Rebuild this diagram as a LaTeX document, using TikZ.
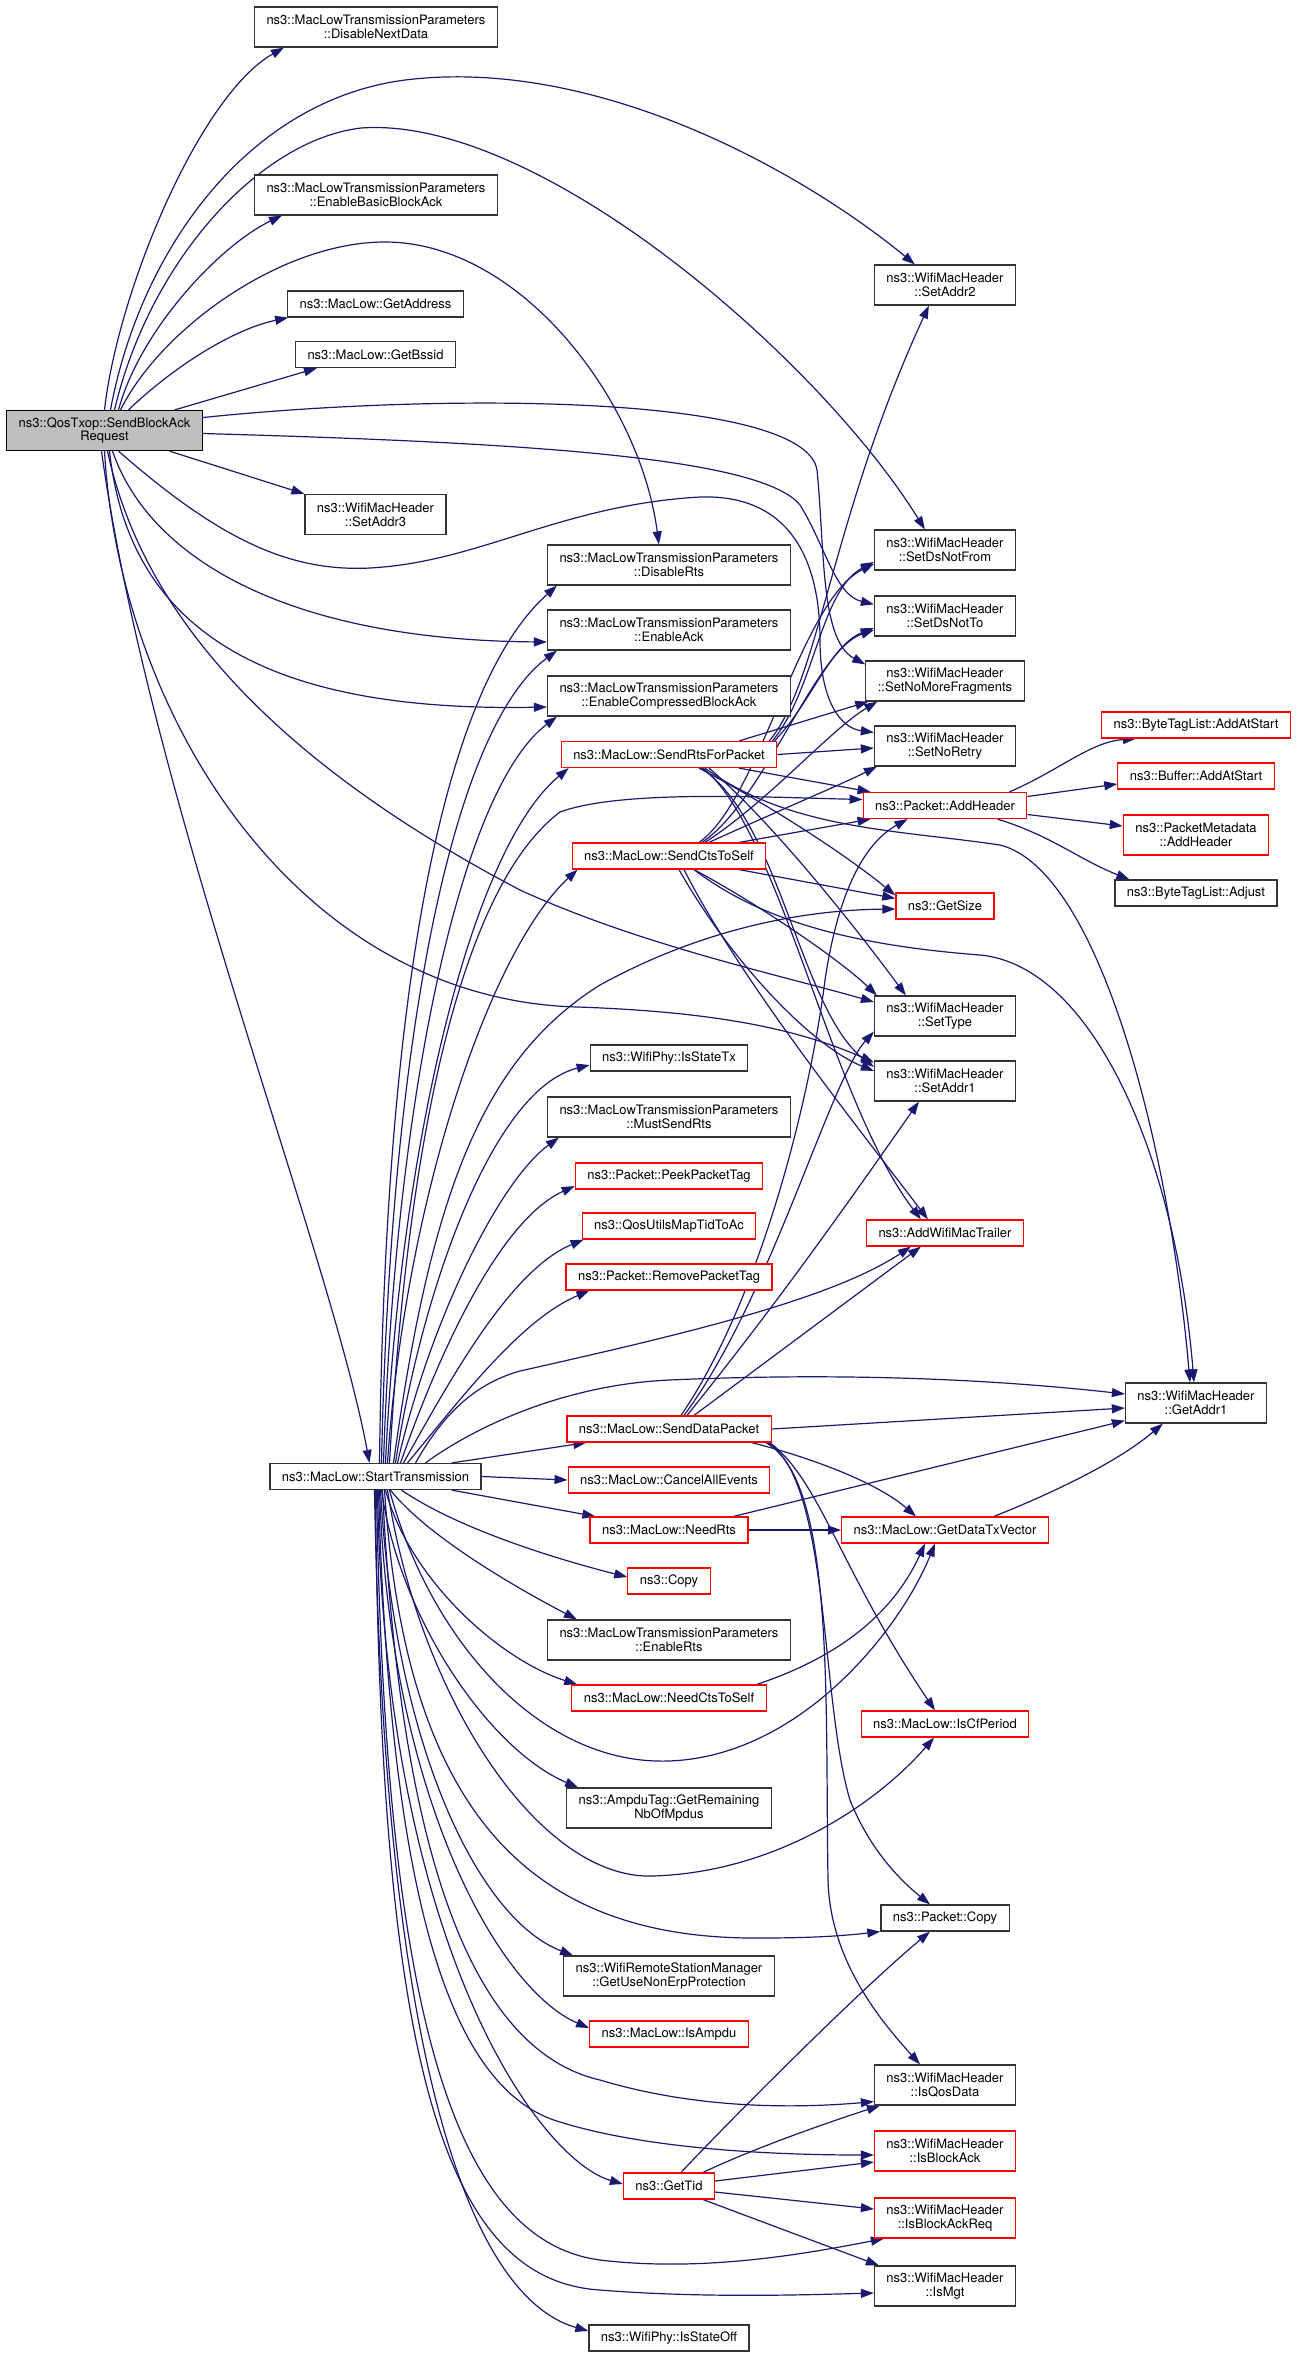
\documentclass[tikz,border=0pt]{standalone}
\usepackage{fontspec}
\setmainfont{TeX Gyre Heros}
\usetikzlibrary{arrows.meta, calc, backgrounds}

\definecolor{edgeblue}{RGB}{25,25,112}
\definecolor{rootgray}{RGB}{191,191,191}

\begin{document}
\begin{tikzpicture}[x=0.5pt, y=-0.5pt,
  fn/.style={draw=black!80, fill=white, line width=0.6pt, inner xsep=6pt, inner ysep=1pt,
    minimum height=13pt, align=center, font=\fontsize{6.5}{6.9}\selectfont},
  fnred/.style={fn, draw=red},
  fnroot/.style={fn, fill=rootgray, draw=black},
  two/.style={minimum height=20pt},
  callline/.style={edgeblue, line width=0.6pt, -{Triangle[length=6.5pt,width=4.5pt]}}]
\useasboundingbox (0,0) rectangle (1299,2357);

% caller
\node[fnroot, two] (sbar) at (104.5,430.5) {ns3::QosTxop::SendBlockAck\\Request};

% second column
\node[fn, two] (dnd) at (376,27) {ns3::MacLowTransmissionParameters\\::DisableNextData};
\node[fn, two] (ebba) at (376,195) {ns3::MacLowTransmissionParameters\\::EnableBasicBlockAck};
\node[fn] (gaddr) at (375.5,304) {ns3::MacLow::GetAddress};
\node[fn] (gbss) at (375.5,354.5) {ns3::MacLow::GetBssid};
\node[fn, two] (sa3) at (375.5,514.5) {ns3::WifiMacHeader\\::SetAddr3};
\node[fn] (st) at (375.5,1476.5) {ns3::MacLow::StartTransmission};

% third column
\node[fn, two] (drts) at (669,565) {ns3::MacLowTransmissionParameters\\::DisableRts};
\node[fn, two] (eack) at (669,630) {ns3::MacLowTransmissionParameters\\::EnableAck};
\node[fn, two] (ecba) at (669,696) {ns3::MacLowTransmissionParameters\\::EnableCompressedBlockAck};
\node[fnred] (srts) at (669,754.5) {ns3::MacLow::SendRtsForPacket};
\node[fnred] (scts) at (669,856) {ns3::MacLow::SendCtsToSelf};
\node[fn] (istx) at (669,1058) {ns3::WifiPhy::IsStateTx};
\node[fn, two] (msr) at (669,1117) {ns3::MacLowTransmissionParameters\\::MustSendRts};
\node[fnred] (ppt) at (669,1176) {ns3::Packet::PeekPacketTag};
\node[fnred] (qos) at (669,1226) {ns3::QosUtilsMapTidToAc};
\node[fnred] (rpt) at (669,1277) {ns3::Packet::RemovePacketTag};
\node[fnred] (sdp) at (669,1429) {ns3::MacLow::SendDataPacket};
\node[fnred] (cae) at (669,1480) {ns3::MacLow::CancelAllEvents};
\node[fnred] (nrts) at (669,1530) {ns3::MacLow::NeedRts};
\node[fnred] (copy) at (669,1581) {ns3::Copy};
\node[fn, two] (erts) at (669,1640) {ns3::MacLowTransmissionParameters\\::EnableRts};
\node[fnred] (ncts) at (669,1698) {ns3::MacLow::NeedCtsToSelf};
\node[fn, two] (ampdu) at (669,1808) {ns3::AmpduTag::GetRemaining\\NbOfMpdus};
\node[fn, two] (nonerp) at (669,1976) {ns3::WifiRemoteStationManager\\::GetUseNonErpProtection};
\node[fnred] (isampdu) at (669,2034) {ns3::MacLow::IsAmpdu};
\node[fnred] (gtid) at (669,2186) {ns3::GetTid};
\node[fn] (isoff) at (669,2338) {ns3::WifiPhy::IsStateOff};

% fourth column
\node[fn, two] (sa2) at (945,285) {ns3::WifiMacHeader\\::SetAddr2};
\node[fn, two] (sdnf) at (945,550) {ns3::WifiMacHeader\\::SetDsNotFrom};
\node[fn, two] (sdnt) at (945,616) {ns3::WifiMacHeader\\::SetDsNotTo};
\node[fn, two] (snmf) at (945,681) {ns3::WifiMacHeader\\::SetNoMoreFragments};
\node[fn, two] (snr) at (945,746) {ns3::WifiMacHeader\\::SetNoRetry};
\node[fnred] (addh) at (945,805.5) {ns3::Packet::AddHeader};
\node[fnred] (gsize) at (945,906) {ns3::GetSize};
\node[fn, two] (stype) at (945,1016) {ns3::WifiMacHeader\\::SetType};
\node[fn, two] (sa1) at (945,1081) {ns3::WifiMacHeader\\::SetAddr1};
\node[fnred] (awmt) at (945,1233) {ns3::AddWifiMacTrailer};
\node[fnred] (gdtv) at (945,1530) {ns3::MacLow::GetDataTxVector};
\node[fnred] (iscf) at (945,1724) {ns3::MacLow::IsCfPeriod};
\node[fn] (pcopy) at (945,1918) {ns3::Packet::Copy};
\node[fn, two] (isqos) at (945,2085) {ns3::WifiMacHeader\\::IsQosData};
\node[fnred, two] (isba) at (945,2151) {ns3::WifiMacHeader\\::IsBlockAck};
\node[fnred, two] (isbar) at (945,2218) {ns3::WifiMacHeader\\::IsBlockAckReq};
\node[fn, two] (ismgt) at (945,2286) {ns3::WifiMacHeader\\::IsMgt};

% fifth column
\node[fnred] (btlaas) at (1196,725) {ns3::ByteTagList::AddAtStart};
\node[fnred] (bufaas) at (1196,776) {ns3::Buffer::AddAtStart};
\node[fnred, two] (pmah) at (1196,835) {ns3::PacketMetadata\\::AddHeader};
\node[fn] (btladj) at (1196,893) {ns3::ByteTagList::Adjust};
\node[fn, two] (ga1) at (1196,1403) {ns3::WifiMacHeader\\::GetAddr1};

\begin{pgfonlayer}{background}
% calls of SendBlockAckRequest
\draw[callline] (sbar.north) .. controls (118,290) and (200,95) .. ($(dnd.south west)+(30,0)$);
\draw[callline] ($(sbar.north)+(6,0)$) .. controls (140,250) and (250,95) .. (414,79) .. controls (600,60) and (800,170) .. ($(sa2.north west)+(41,0)$);
\draw[callline] ($(sbar.north)+(10,0)$) .. controls (150,260) and (260,140) .. (361,128) .. controls (540,115) and (820,360) .. ($(sdnf.north west)+(51,0)$);
\draw[callline] ($(sbar.north)+(14,0)$) .. controls (140,330) and (220,245) .. ($(ebba.south west)+(28,0)$);
\draw[callline] ($(sbar.north)+(16,0)$) .. controls (160,330) and (280,242) .. (385,242) .. controls (520,242) and (640,400) .. ($(drts.north west)+(112,0)$);
\draw[callline] ($(sbar.north)+(24,0)$) .. controls (170,370) and (230,330) .. ($(gaddr.south west)+(1,0)$);
\draw[callline] (sbar) -- ($(gbss.south west)+(22,0)$);
\draw[callline] (sbar) -- (sa3.north west);
\draw[callline] ($(sbar.east)+(0,-13)$) .. controls (450,392) and (805,395) .. (817,470) .. controls (825,550) and (820,640) .. ($(snmf.north west)+(0,4)$);
\draw[callline] ($(sbar.east)+(0,3)$) .. controls (500,442) and (760,455) .. (800,505) .. controls (825,545) and (835,595) .. ($(sdnt.north west)+(0,9)$);
\draw[callline] ($(sbar.south)+(14,0)$) .. controls (220,540) and (290,572) .. (370,568) .. controls (480,562) and (560,505) .. (700,497) .. controls (790,494) and (820,560) .. (820,640) .. controls (820,700) and (840,728) .. ($(snr.north west)+(0,7)$);
\draw[callline] ($(sbar.south)+(8,0)$) .. controls (150,560) and (290,640) .. ($(eack.west)+(0,12)$);
\draw[callline] ($(sbar.south)+(5,0)$) .. controls (130,640) and (280,712) .. ($(ecba.west)+(0,11)$);
\draw[callline] ($(sbar.south)+(3,0)$) .. controls (150,650) and (330,790) .. (520,890) .. controls (640,945) and (780,975) .. ($(stype.west)+(0,-14)$);
\draw[callline] (sbar.south) .. controls (120,720) and (300,1000) .. (578,1007) .. controls (720,1012) and (800,1030) .. ($(sa1.north west)+(0,2)$);
\draw[callline] ($(sbar.south)+(-3,0)$) .. controls (150,800) and (330,1250) .. ($(st.north)+(-6,0)$);

% calls of StartTransmission, upwards
\draw[callline] ($(st.north)+(4,0)$) .. controls (385,1000) and (440,690) .. ($(drts.south west)+(10,0)$);
\draw[callline] ($(st.north)+(6,0)$) .. controls (390,1050) and (450,730) .. ($(eack.south west)+(10,0)$);
\draw[callline] ($(st.north)+(8,0)$) .. controls (395,1100) and (460,790) .. ($(ecba.south west)+(10,0)$);
\draw[callline] ($(st.north)+(10,0)$) .. controls (400,1150) and (470,850) .. ($(srts.south west)+(8,0)$);
\draw[callline] ($(st.north)+(12,0)$) .. controls (405,1200) and (490,950) .. ($(scts.south west)+(6,0)$);
\draw[callline] ($(st.north)+(14,0)$) .. controls (410,1100) and (470,880) .. (560,812) .. controls (620,790) and (760,797) .. ($(addh.west)+(0,-6)$);
\draw[callline] ($(st.north)+(18,0)$) .. controls (430,1200) and (480,1060) .. (600,985) .. controls (700,930) and (800,910) .. ($(gsize.west)+(0,3)$);
\draw[callline] ($(st.north)+(20,0)$) .. controls (420,1300) and (490,1090) .. ($(istx.west)+(0,7)$);
\draw[callline] ($(st.north)+(22,0)$) .. controls (430,1320) and (500,1180) .. ($(msr.south west)+(12,0)$);
\draw[callline] ($(st.north)+(25,0)$) .. controls (440,1350) and (500,1220) .. ($(ppt.west)+(0,10)$);
\draw[callline] ($(st.north)+(28,0)$) .. controls (450,1380) and (510,1270) .. ($(qos.south west)+(2,0)$);
\draw[callline] ($(st.north)+(32,0)$) .. controls (460,1400) and (520,1320) .. ($(rpt.south west)+(24,0)$);
\draw[callline] ($(st.north)+(40,0)$) .. controls (440,1420) and (470,1385) .. (520,1371) .. controls (680,1335) and (830,1300) .. ($(awmt.south west)+(45,0)$);
\draw[callline] ($(st.north)+(50,0)$) .. controls (470,1430) and (560,1385) .. (669,1380) .. controls (850,1372) and (1000,1380) .. ($(ga1.west)+(0,-9)$);
\draw[callline] ($(st.north east)+(-30,0)$) -- ($(sdp.south west)+(20,0)$);
\draw[callline] (st.east) -- (cae.west);

% calls of StartTransmission, downwards
\draw[callline] ($(st.south east)+(-30,0)$) -- ($(nrts.north west)+(6,0)$);
\draw[callline] ($(st.south)+(26,0)$) .. controls (460,1530) and (560,1560) .. ($(copy.west)+(0,-4)$);
\draw[callline] ($(st.south)+(15,0)$) .. controls (430,1540) and (530,1595) .. ($(erts.north west)+(30,0)$);
\draw[callline] ($(st.south)+(10,0)$) .. controls (410,1580) and (500,1660) .. ($(ncts.north west)+(6,0)$);
\draw[callline] ($(st.south)+(6,0)$) .. controls (400,1620) and (490,1750) .. ($(ampdu.north west)+(12,0)$);
\draw[callline] ($(st.south)+(14,0)$) .. controls (430,1640) and (540,1765) .. (668,1761) .. controls (800,1757) and (900,1630) .. ($(gdtv.south)+(-10,0)$);
\draw[callline] ($(st.south)+(12,0)$) .. controls (420,1700) and (540,1880) .. (653,1876) .. controls (780,1872) and (880,1800) .. ($(iscf.south)+(-11,0)$);
\draw[callline] ($(st.south)+(9,0)$) .. controls (405,1800) and (520,1940) .. (760,1938) .. controls (820,1938) and (850,1935) .. (pcopy.south west);
\draw[callline] ($(st.south)+(5,0)$) .. controls (395,1750) and (480,1920) .. ($(nonerp.north west)+(10,0)$);
\draw[callline] ($(st.south)+(4,0)$) .. controls (390,1800) and (500,1990) .. ($(isampdu.west)+(0,-6)$);
\draw[callline] ($(st.south)+(7,0)$) .. controls (400,1850) and (470,2050) .. (600,2080) .. controls (700,2110) and (800,2108) .. ($(isqos.south west)+(0,-4)$);
\draw[callline] ($(st.south)+(3,0)$) .. controls (390,1900) and (450,2090) .. (560,2122) .. controls (650,2150) and (780,2155) .. ($(isba.west)+(0,4)$);
\draw[callline] ($(st.south)+(2,0)$) .. controls (385,1950) and (540,2160) .. ($(gtid.west)+(0,-2)$);
\draw[callline] ($(st.south)+(1,0)$) .. controls (385,2000) and (450,2240) .. (600,2260) .. controls (700,2272) and (800,2255) .. ($(isbar.south west)+(10,0)$);
\draw[callline] (st.south) .. controls (380,2050) and (440,2280) .. (600,2290) .. controls (700,2298) and (800,2295) .. ($(ismgt.west)+(0,7)$);
\draw[callline] ($(st.south)+(-1,0)$) .. controls (385,2100) and (480,2300) .. ($(isoff.west)+(0,-7)$);

% calls of SendRtsForPacket
\draw[callline] ($(srts.north east)+(-8,0)$) .. controls (820,680) and (830,520) .. ($(sa2.south west)+(55,0)$);
\draw[callline] ($(srts.north east)+(-5,0)$) .. controls (815,690) and (820,590) .. ($(sdnf.west)+(0,12)$);
\draw[callline] ($(srts.north east)+(-3,0)$) .. controls (810,705) and (830,645) .. ($(sdnt.west)+(0,12)$);
\draw[callline] ($(srts.north)+(70,0)$) -- ($(snmf.south west)+(3,0)$);
\draw[callline] (srts.east) -- ($(snr.west)+(0,2)$);
\draw[callline] ($(srts.south)+(70,0)$) -- ($(addh.north west)+(8,0)$);
\draw[callline] ($(srts.south)+(30,0)$) .. controls (760,800) and (840,850) .. ($(gsize.north west)+(0,3)$);
\draw[callline] ($(srts.south)+(40,0)$) .. controls (770,820) and (850,920) .. ($(stype.north west)+(32,0)$);
\draw[callline] ($(srts.south)+(32,0)$) .. controls (780,820) and (800,1010) .. ($(sa1.west)+(0,-14)$);
\draw[callline] ($(srts.south)+(34,0)$) .. controls (780,830) and (830,1100) .. ($(awmt.north west)+(55,0)$);
\draw[callline] ($(srts.south)+(36,0)$) .. controls (790,830) and (900,830) .. (1000,845) .. controls (1100,870) and (1170,1150) .. ($(ga1.north)+(-6,0)$);

% calls of SendCtsToSelf
\draw[callline] ($(scts.north)+(30,0)$) .. controls (760,800) and (800,600) .. ($(sdnf.west)+(0,14)$);
\draw[callline] ($(scts.north)+(33,0)$) .. controls (765,800) and (815,650) .. ($(sdnt.west)+(0,14)$);
\draw[callline] ($(scts.north)+(36,0)$) .. controls (770,800) and (830,730) .. ($(snmf.south west)+(12,0)$);
\draw[callline] ($(scts.north)+(40,0)$) .. controls (780,810) and (840,785) .. ($(snr.south west)+(3,0)$);
\draw[callline] ($(scts.north)+(70,0)$) -- ($(addh.south west)+(8,0)$);
\draw[callline] ($(scts.south)+(70,0)$) -- ($(gsize.north west)+(0,6)$);
\draw[callline] ($(scts.south)+(25,0)$) .. controls (760,905) and (840,960) .. ($(stype.north west)+(3,0)$);
\draw[callline] ($(scts.south)+(10,0)$) .. controls (730,960) and (810,1045) .. ($(sa1.west)+(0,-10)$);
\draw[callline] ($(scts.south)+(15,0)$) .. controls (740,980) and (860,1130) .. ($(awmt.north west)+(62,0)$);
\draw[callline] ($(scts.south)+(25,0)$) .. controls (760,920) and (850,945) .. (980,955) .. controls (1090,965) and (1175,1150) .. ($(ga1.north)+(-2,0)$);

% calls of Packet::AddHeader
\draw[callline] ($(addh.north east)+(-18,0)$) .. controls (1060,770) and (1090,742) .. ($(btlaas.south west)+(35,0)$);
\draw[callline] ($(addh.east)+(0,-9)$) -- ($(bufaas.west)+(0,8)$);
\draw[callline] ($(addh.east)+(0,9)$) -- ($(pmah.west)+(0,-9)$);
\draw[callline] ($(addh.south east)+(-30,0)$) .. controls (1050,835) and (1080,860) .. ($(btladj.north west)+(15,0)$);

% calls of SendDataPacket
\draw[callline] ($(sdp.north)+(12,0)$) .. controls (760,1300) and (810,1100) .. (825,980) .. controls (840,880) and (870,840) .. ($(addh.south west)+(45,0)$);
\draw[callline] ($(sdp.north)+(15,0)$) .. controls (770,1300) and (830,1080) .. ($(stype.south west)+(0,-5)$);
\draw[callline] ($(sdp.north)+(18,0)$) .. controls (780,1300) and (850,1200) .. ($(sa1.south west)+(45,0)$);
\draw[callline] ($(sdp.north)+(25,0)$) -- ($(awmt.south west)+(55,0)$);
\draw[callline] (sdp.east) -- ($(ga1.west)+(0,5)$);
\draw[callline] ($(sdp.south east)+(-20,0)$) .. controls (820,1460) and (880,1485) .. ($(gdtv.north west)+(75,0)$);
\draw[callline] ($(sdp.south east)+(-2,0)$) .. controls (820,1480) and (840,1570) .. ($(iscf.north)+(-10,0)$);
\draw[callline] ($(sdp.south east)+(-4,0)$) .. controls (830,1480) and (820,1700) .. (850,1800) .. controls (870,1850) and (900,1880) .. ($(pcopy.north)+(-15,0)$);
\draw[callline] ($(sdp.south east)+(-6,0)$) .. controls (835,1480) and (825,1700) .. (828,1880) .. controls (830,1960) and (880,2020) .. ($(isqos.north)+(-25,0)$);

% calls of NeedRts, GetDataTxVector, NeedCtsToSelf
\draw[callline] ($(nrts.north east)+(-15,0)$) -- ($(ga1.south west)+(0,-3)$);
\draw[callline] (nrts.east) -- (gdtv.west);
\draw[callline] ($(gdtv.north east)+(-55,0)$) .. controls (1060,1490) and (1120,1460) .. ($(ga1.south west)+(38,0)$);
\draw[callline] ($(ncts.north east)+(-10,0)$) .. controls (830,1660) and (890,1620) .. ($(gdtv.south)+(-20,0)$);

% calls of GetTid
\draw[callline] ($(gtid.north)+(12,0)$) .. controls (740,2110) and (860,1990) .. ($(pcopy.south)+(-15,0)$);
\draw[callline] ($(gtid.north east)+(-12,0)$) .. controls (750,2150) and (820,2125) .. ($(isqos.south west)+(6,0)$);
\draw[callline] ($(gtid.east)+(0,-5)$) -- ($(isba.west)+(0,11)$);
\draw[callline] ($(gtid.east)+(0,6)$) -- ($(isbar.west)+(0,-9)$);
\draw[callline] ($(gtid.south east)+(-12,0)$) -- ($(ismgt.north west)+(5,0)$);
\end{pgfonlayer}
\end{tikzpicture}
\end{document}
